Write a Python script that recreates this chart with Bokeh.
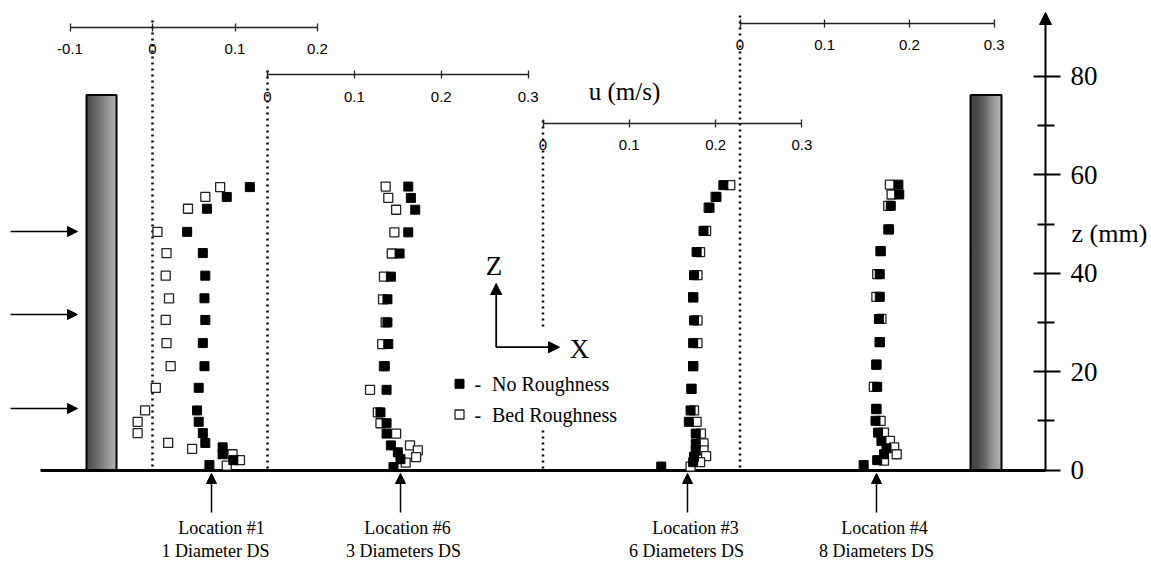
from bokeh.plotting import figure
from bokeh.models import Range1d, LinearAxis, FixedTicker, Arrow, NormalHead, NumeralTickFormatter
from bokeh.core.properties import value
from bokeh.embed import file_html
from bokeh.resources import INLINE

# ---------------- data (u in m/s, z in mm) ----------------
loc1_no_z = [57.5, 55.5, 53.1, 48.4, 44.1, 39.5, 34.9, 30.5, 25.8, 21.1, 16.7, 12.1, 9.8, 7.5, 5.5, 4.6, 3.2, 2.0, 1.0]
loc1_no_u = [0.118, 0.090, 0.066, 0.042, 0.061, 0.064, 0.063, 0.064, 0.061, 0.063, 0.056, 0.054, 0.056, 0.061, 0.064, 0.085, 0.085, 0.098, 0.069]
loc1_bed_z = [57.5, 55.5, 53.1, 48.4, 44.1, 39.5, 34.9, 30.5, 25.8, 21.1, 16.7, 12.1, 9.8, 7.5, 5.5, 4.3, 3.2, 2.0, 0.9]
loc1_bed_u = [0.082, 0.064, 0.043, 0.006, 0.017, 0.016, 0.020, 0.016, 0.017, 0.022, 0.004, -0.009, -0.018, -0.018, 0.019, 0.048, 0.097, 0.106, 0.090]

loc6_no_z = [57.6, 55.3, 52.9, 48.3, 44.0, 39.3, 34.7, 30.0, 25.6, 21.1, 16.3, 11.7, 9.5, 7.4, 5.0, 3.6, 2.2, 0.6]
loc6_no_u = [0.162, 0.165, 0.170, 0.162, 0.152, 0.142, 0.138, 0.138, 0.139, 0.135, 0.137, 0.130, 0.137, 0.137, 0.142, 0.150, 0.153, 0.145]
loc6_bed_z = [57.6, 55.3, 52.9, 48.3, 44.0, 39.3, 34.7, 30.0, 25.6, 21.1, 16.3, 11.7, 9.5, 7.4, 5.0, 4.0, 2.6, 1.5]
loc6_bed_u = [0.136, 0.139, 0.148, 0.146, 0.143, 0.134, 0.133, 0.136, 0.132, 0.134, 0.118, 0.127, 0.130, 0.148, 0.164, 0.173, 0.171, 0.159]

loc3_no_z = [57.9, 55.5, 53.3, 48.6, 44.3, 39.6, 35.1, 30.4, 25.8, 21.1, 16.5, 12.1, 9.8, 7.4, 5.3, 4.0, 2.7, 1.6, 0.7]
loc3_no_u = [0.209, 0.201, 0.193, 0.186, 0.178, 0.175, 0.174, 0.175, 0.174, 0.174, 0.172, 0.171, 0.169, 0.177, 0.177, 0.177, 0.175, 0.174, 0.137]
loc3_bed_z = [57.9, 55.5, 53.3, 48.6, 44.3, 39.6, 35.1, 30.4, 25.8, 21.1, 16.5, 12.1, 9.8, 7.4, 5.4, 4.0, 2.8, 1.6, 0.7]
loc3_bed_u = [0.217, 0.200, 0.192, 0.189, 0.182, 0.179, 0.174, 0.179, 0.179, 0.174, 0.172, 0.175, 0.178, 0.183, 0.186, 0.186, 0.189, 0.182, 0.171]

loc4_no_z = [58.0, 56.0, 53.7, 48.9, 44.5, 39.8, 35.2, 30.7, 26.0, 21.4, 16.9, 12.4, 10.0, 7.6, 5.9, 4.4, 3.2, 2.0, 1.0]
loc4_no_u = [0.187, 0.188, 0.178, 0.176, 0.166, 0.165, 0.165, 0.164, 0.165, 0.161, 0.162, 0.161, 0.160, 0.163, 0.167, 0.173, 0.170, 0.162, 0.146]
loc4_bed_z = [58.0, 56.0, 53.7, 48.9, 44.5, 39.8, 35.2, 30.7, 26.0, 21.4, 16.9, 12.4, 10.0, 7.6, 5.9, 4.6, 3.2, 1.9]
loc4_bed_u = [0.177, 0.179, 0.175, 0.175, 0.166, 0.162, 0.161, 0.167, 0.165, 0.161, 0.158, 0.161, 0.166, 0.170, 0.177, 0.182, 0.185, 0.170]

scale1_ticks = [-0.1, 0, 0.1, 0.2]
scale6_ticks = [0, 0.1, 0.2, 0.3]
scale3_ticks = [0, 0.1, 0.2, 0.3]
scale4_ticks = [0, 0.1, 0.2, 0.3]
z_major_ticks = [0, 20, 40, 60, 80]
z_minor_ticks = [10, 30, 50, 70]

loc_line1 = ["Location #1", "Location #6", "Location #3", "Location #4"]
loc_line2 = ["1 Diameter DS", "3 Diameters DS", "6 Diameters DS", "8 Diameters DS"]
legend_labels = ["No Roughness", "Bed Roughness"]

# ---------------- layout ----------------
W, H = 1151, 565
Z0_PX, PX_PER_MM = 469.5, 4.92


def z_of(ypx):
    return (Z0_PX - ypx) / PX_PER_MM


# name, zero pixel, pixels per (m/s), axis line y px, ticks, dotted segments (px)
scales = [
    ("s1", 152.0, 825.0, 26.7, scale1_ticks, [(20, 470)], loc1_no_u, loc1_no_z, loc1_bed_u, loc1_bed_z),
    ("s6", 267.0, 869.0, 74.0, scale6_ticks, [(70, 470)], loc6_no_u, loc6_no_z, loc6_bed_u, loc6_bed_z),
    ("s3", 542.5, 863.0, 122.7, scale3_ticks, [(120, 327), (430, 470)], loc3_no_u, loc3_no_z, loc3_bed_u, loc3_bed_z),
    ("s4", 739.5, 847.0, 22.7, scale4_ticks, [(15, 470)], loc4_no_u, loc4_no_z, loc4_bed_u, loc4_bed_z),
]

extra_x = {}
for name, zero, ppu, *_ in scales:
    extra_x[name] = Range1d(-zero / ppu, (W - zero) / ppu)

p = figure(width=W, height=H, output_backend="svg", toolbar_location=None,
           x_range=Range1d(0, W), y_range=Range1d(z_of(H), z_of(0)),
           x_axis_type=None, y_axis_type=None, min_border=0,
           outline_line_color=None, background_fill_color="white",
           border_fill_color="white")
p.extra_x_ranges = extra_x
p.extra_y_ranges = {"px": Range1d(H, 0)}

SERIF = value("Liberation Serif")

# walls with a horizontal grey gradient
n = 30
for (wl, wr) in [(86, 116), (970, 1001)]:
    step = (wr - wl) / n
    lefts = [wl + i * step for i in range(n)]
    rights = [wl + (i + 1) * step + 0.3 for i in range(n)]
    greys = []
    for i in range(n):
        g = int(50 + (170 - 50) * i / (n - 1))
        greys.append("#%02x%02x%02x" % (g, g, g))
    p.quad(left=lefts, right=rights, top=[94.5] * n, bottom=[470] * n,
           fill_color=greys, line_color=None, y_range_name="px")
    p.quad(left=[wl], right=[wr], top=[94.5], bottom=[470], fill_color=None,
           line_color="black", line_width=2, y_range_name="px")

# ground line
p.segment(x0=[40], y0=[470], x1=[1045], y1=[470], line_width=3, color="black", y_range_name="px")

# scales: axes, dotted zero lines and data
for name, zero, ppu, ypx, ticks, dots, nu, nz, bu, bz in scales:
    ax = LinearAxis(x_range_name=name, fixed_location=z_of(ypx),
                    bounds=(ticks[0], ticks[-1]),
                    ticker=FixedTicker(ticks=ticks, minor_ticks=[]),
                    formatter=NumeralTickFormatter(format="0.[0]"),
                    major_tick_in=4, major_tick_out=4,
                    minor_tick_in=0, minor_tick_out=0,
                    axis_line_width=1.3, major_tick_line_width=1.3,
                    axis_line_color="#222222", major_tick_line_color="#222222",
                    major_label_text_font="Liberation Sans",
                    major_label_text_font_size="15px",
                    major_label_text_color="black",
                    major_label_standoff=13)
    p.add_layout(ax, "below")
    for (y0, y1) in dots:
        p.segment(x0=[0], y0=[y0], x1=[0], y1=[y1], x_range_name=name, y_range_name="px",
                  line_dash="2 4", line_width=2.5, color="black")
    p.scatter(bu, bz, x_range_name=name, marker="square", size=9,
              fill_color="white", line_color="#222222", line_width=1.3)
    p.scatter(nu, nz, x_range_name=name, marker="square", size=9,
              fill_color="black", line_color="black", line_width=1)

# vertical z axis
zax = LinearAxis(fixed_location=1045, bounds=(0, 80),
                 ticker=FixedTicker(ticks=z_major_ticks, minor_ticks=z_minor_ticks),
                 axis_line_color=None,
                 major_tick_in=12, major_tick_out=15,
                 minor_tick_in=8, minor_tick_out=9,
                 major_tick_line_width=2, minor_tick_line_width=2,
                 major_label_text_font="Liberation Serif",
                 major_label_text_font_size="27px",
                 major_label_text_color="black",
                 major_label_standoff=10)
p.add_layout(zax, "right")


def arrow(x0, y0, x1, y1, size=10, lw=1.5):
    p.add_layout(Arrow(end=NormalHead(size=size, fill_color="black", line_color="black"),
                       x_start=x0, y_start=y0, x_end=x1, y_end=y1,
                       y_range_name="px", line_width=lw, line_color="black"))


arrow(1045, 470, 1045, 12, size=12, lw=2)
for ya in [231, 314, 408]:
    arrow(10, ya, 77, ya, size=10, lw=1.5)
loc_x = [211, 400, 687, 876]
for xa in loc_x:
    arrow(xa, 512, xa, 473, size=10, lw=1.5)
arrow(495.7, 346.7, 495.7, 283, size=11, lw=1.8)
arrow(495.7, 346.7, 559, 346.7, size=11, lw=1.8)

# texts
p.text(x=[221, 407, 695, 884], y=[527] * 4, text=loc_line1, text_font=SERIF,
       text_font_size="18px", text_align="center", text_baseline="middle", y_range_name="px")
p.text(x=[215, 403, 686, 876], y=[550] * 4, text=loc_line2, text_font=SERIF,
       text_font_size="18px", text_align="center", text_baseline="middle", y_range_name="px")
p.text(x=[624], y=[91], text=["u (m/s)"], text_font=SERIF, text_font_size="25px",
       text_align="center", text_baseline="middle", y_range_name="px")
p.text(x=[1071], y=[233], text=["z (mm)"], text_font=SERIF, text_font_size="26px",
       text_align="left", text_baseline="middle", y_range_name="px")
p.text(x=[493.5, 579], y=[265, 348], text=["Z", "X"], text_font=SERIF, text_font_size="27px",
       text_align="center", text_baseline="middle", y_range_name="px")

# legend
p.scatter([459], [383.3], marker="square", size=9, fill_color="black", line_color="black",
          y_range_name="px")
p.scatter([459], [414], marker="square", size=9, fill_color="white", line_color="#222222",
          line_width=1.3, y_range_name="px")
p.text(x=[474, 474], y=[383.3, 414], text=["-", "-"], text_font=SERIF, text_font_size="20px",
       text_align="left", text_baseline="middle", y_range_name="px")
p.text(x=[491.5, 491.5], y=[383.3, 414], text=legend_labels, text_font=SERIF,
       text_font_size="20px", text_align="left", text_baseline="middle", y_range_name="px")

open("out.html", "w").write(file_html(p, INLINE))
